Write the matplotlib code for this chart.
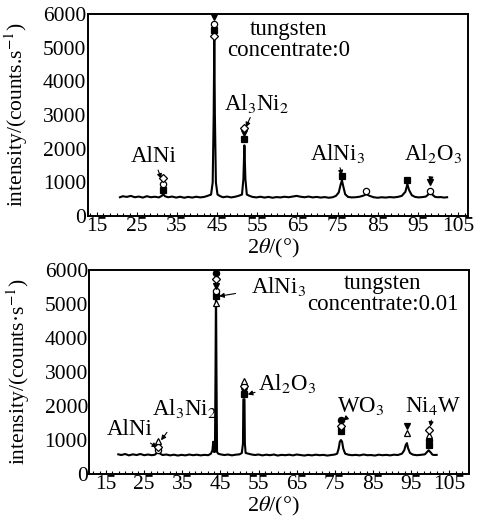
import matplotlib
matplotlib.use("Agg")
import matplotlib.pyplot as plt
from matplotlib.ticker import MultipleLocator

plt.rcParams['font.family'] = ['Liberation Serif', 'DejaVu Serif']
plt.rcParams['mathtext.fontset'] = 'stix'

# ---- data ----
# top: tungsten concentrate 0
top_x = [20.8, 21.5, 22.5, 23.5, 24.5, 25.5, 26.5, 27.5, 28.5, 29.5, 30.5, 31.2, 31.6, 32.0,
         32.8, 33.8, 34.8, 35.8, 36.8, 37.8, 38.8, 39.8, 40.8, 41.8, 42.6, 43.5, 43.9, 44.15,
         44.3, 44.45, 44.7, 45.1, 45.8, 46.5, 47.5, 48.5, 49.5, 50.3, 51.2, 51.55, 51.8, 52.05,
         52.4, 53.1, 53.8, 54.8, 55.8, 56.8, 57.8, 58.8, 59.8, 60.8, 61.8, 62.8, 63.8, 64.8,
         65.8, 66.8, 67.8, 68.8, 69.8, 70.8, 71.8, 72.8, 73.8, 74.6, 75.3, 75.8, 76.1, 76.4,
         76.9, 77.6, 78.5, 79.5, 80.5, 81.5, 82.2, 83.0, 84.0, 85.0, 86.0, 87.0, 88.0, 89.0,
         90.0, 91.0, 91.9, 92.4, 92.8, 93.5, 94.3, 95.2, 96.2, 97.0, 97.6, 98.1, 98.6, 99.3,
         100.0, 100.8, 101.5, 102.3]
top_y = [560, 590, 570, 600, 560, 580, 550, 590, 560, 575, 555, 600, 650, 590,
         560, 580, 550, 575, 545, 570, 550, 575, 555, 570, 600, 640, 1000, 3000,
         5300, 3000, 1000, 640, 590, 560, 580, 555, 575, 600, 640, 1100, 2100, 1100,
         640, 600, 570, 555, 575, 550, 570, 545, 565, 555, 575, 560, 580, 600,
         575, 560, 580, 555, 570, 550, 565, 545, 560, 600, 700, 950, 1060, 900,
         650, 570, 555, 560, 575, 610, 650, 600, 560, 545, 560, 550, 565, 555,
         570, 600, 720, 950, 780, 620, 570, 555, 565, 580, 640, 710, 640, 570,
         560, 565, 550, 560]

# bottom: tungsten concentrate 0.01
bot_x = [18.2, 19.0, 20.0, 21.0, 22.0, 23.0, 24.0, 25.0, 26.0, 27.0, 27.8, 28.3, 28.7, 29.2,
         29.8, 30.8, 31.8, 32.8, 33.8, 34.8, 35.8, 36.8, 37.8, 38.8, 39.8, 40.8, 41.8, 42.5,
         42.9, 43.1, 43.3, 43.55, 43.7, 43.8, 43.85, 43.95, 44.1, 44.4, 45.0, 46.0, 47.0, 48.0,
         49.0, 50.0, 50.6, 50.9, 51.0, 51.1, 51.2, 51.3, 51.4, 51.6, 53.0, 54.0, 55.0, 56.0,
         57.0, 58.0, 59.0, 60.0, 61.0, 62.0, 63.0, 64.0, 65.0, 66.0, 67.0, 68.0, 69.0, 70.0,
         71.0, 72.0, 73.0, 74.0, 75.0, 75.6, 76.0, 76.3, 76.6, 76.9, 77.2, 77.7, 78.5, 79.5,
         80.5, 81.5, 82.5, 83.5, 84.5, 85.5, 86.5, 87.5, 88.5, 89.5, 90.5, 91.5, 92.6, 93.2,
         93.6, 93.9, 94.2, 94.7, 95.5, 96.5, 97.5, 98.6, 99.1, 99.6, 100.1, 100.6, 101.2, 101.7]
bot_y = [580, 560, 590, 550, 580, 560, 590, 555, 575, 555, 570, 620, 660, 600,
         560, 575, 550, 570, 545, 565, 550, 575, 555, 570, 550, 565, 555, 600,
         700, 950, 650, 650, 3000, 5100, 5100, 3000, 650, 600, 580, 560, 575, 550,
         570, 580, 620, 900, 2200, 2200, 2200, 2200, 900, 620, 580, 560, 575, 550,
         570, 555, 575, 545, 565, 555, 570, 550, 575, 560, 545, 565, 550, 570,
         555, 565, 545, 560, 575, 600, 750, 950, 1000, 950, 750, 600, 570, 555,
         565, 550, 575, 555, 560, 545, 570, 555, 565, 550, 570, 560, 600, 700,
         860, 910, 760, 620, 570, 555, 565, 580, 640, 700, 640, 570, 560, 565]

# phase symbols: (x, y, marker, filled)
top_marks = [(44.3, 5340, 'D', False), (44.3, 5520, 's', True), (44.3, 5700, 'o', False),
             (44.3, 5910, 'v', True),
             (51.8, 2300, 's', True), (51.8, 2460, 'v', True), (51.8, 2610, 'D', False),
             (31.6, 770, 's', True), (31.6, 960, 'o', False), (31.6, 1120, 'D', False),
             (76.1, 1180, 's', True), (82.2, 760, 'o', False), (92.4, 1070, 's', True),
             (98.1, 760, 'o', False), (98.1, 1020, 'v', True)]
bot_marks = [(28.7, 700, 'o', False), (28.7, 810, 'D', False), (28.7, 960, '^', False),
             (43.82, 5040, '^', False), (43.82, 5240, 's', True), (43.82, 5390, 'o', False),
             (43.82, 5530, 'v', True), (43.82, 5730, 'D', False), (43.82, 5900, 'o', True),
             (51.15, 2340, 's', True), (51.15, 2450, 'v', True), (51.15, 2580, 'D', False),
             (51.15, 2730, '^', False),
             (76.6, 1260, 's', True), (76.6, 1400, 'D', False), (76.6, 1600, 'o', True),
             (93.9, 1210, '^', False), (93.9, 1400, 'v', True),
             (99.6, 850, 's', True), (99.6, 1010, 'o', True), (99.6, 1150, '^', False),
             (99.6, 1290, 'D', False)]

# phase labels: (text, text_x, text_y, tip_x, tip_y)
top_labels = [('AlNi', 29.1, 1760, 31.2, 1070),
              (r'Al$_3$Ni$_2$', 54.9, 3350, 52.0, 2600),
              (r'AlNi$_3$', 74.9, 1860, 76.1, 1170),
              (r'Al$_2$O$_3$', 98.9, 1860, 98.1, 970)]
bot_labels = [('AlNi', 21.3, 1300, 28.7, 760),
              (r'Al$_3$Ni$_2$', 35.7, 1940, 29.2, 960),
              (r'AlNi$_3$', 60.1, 5510, 44.3, 5220),
              (r'Al$_2$O$_3$', 62.4, 2670, 51.8, 2330),
              (r'WO$_3$', 81.7, 1990, 76.9, 1545),
              (r'Ni$_4$W', 100.8, 1990, 100.0, 1350)]

xticks = [15, 25, 35, 45, 55, 65, 75, 85, 95, 105]
yticks = [0, 1000, 2000, 3000, 4000, 5000, 6000]

fig = plt.figure(figsize=(4.88, 5.17), dpi=100)
ax1 = fig.add_axes([0.180, 0.582, 0.779, 0.391])
ax2 = fig.add_axes([0.183, 0.083, 0.779, 0.395])


def draw(ax, x, y, marks, labels, xlim, conc, cx, cy, dot):
    ax.plot(x, y, color='black', lw=1.5)
    for mx, my, m, filled in marks:
        ax.plot(mx, my, marker=m, ms=4.5, mec='black', mew=0.9,
                mfc='black' if filled else 'white', zorder=5)
    for txt, tx, ty, px, py in labels:
        ax.annotate(txt, xy=(px, py), xytext=(tx, ty), fontsize=16.5,
                    ha='center', va='center',
                    arrowprops=dict(arrowstyle='-|>', color='black', lw=0.8,
                                    mutation_scale=7, shrinkA=9, shrinkB=1))
    ax.text(cx, cy, 'tungsten\nconcentrate:' + conc, fontsize=16.5,
            ha='center', va='center', linespacing=0.95)
    ax.set_xlim(*xlim)
    ax.set_ylim(0, 6000)
    ax.set_xticks(xticks)
    ax.set_yticks(yticks)
    ax.xaxis.set_minor_locator(MultipleLocator(10 / 6))
    ax.tick_params(axis='x', which='both', direction='in', length=3, width=0.8,
                   labelsize=15.5, pad=1)
    ax.tick_params(axis='x', which='minor', length=2)
    ax.tick_params(axis='y', direction='in', length=0, labelsize=15.5, pad=1)
    for s in ax.spines.values():
        s.set_linewidth(1.4)
    ax.set_ylabel('intensity/(counts' + dot + r's$^{-1}$)', fontsize=15.5)
    ax.yaxis.set_label_coords(-0.152, 0.5)
    ax.set_xlabel(r'2$\theta$/(°)', fontsize=16)


draw(ax1, top_x, top_y, top_marks, top_labels, (12.8, 107.5), '0', 62.8, 5230, '.')
ax1.xaxis.set_label_coords(0.487, -0.102)
draw(ax2, bot_x, bot_y, bot_marks, bot_labels, (10.6, 110.3), '0.01', 87.6, 5290, '·')
ax2.xaxis.set_label_coords(0.484, -0.104)

fig.savefig('out.png', dpi=100)
